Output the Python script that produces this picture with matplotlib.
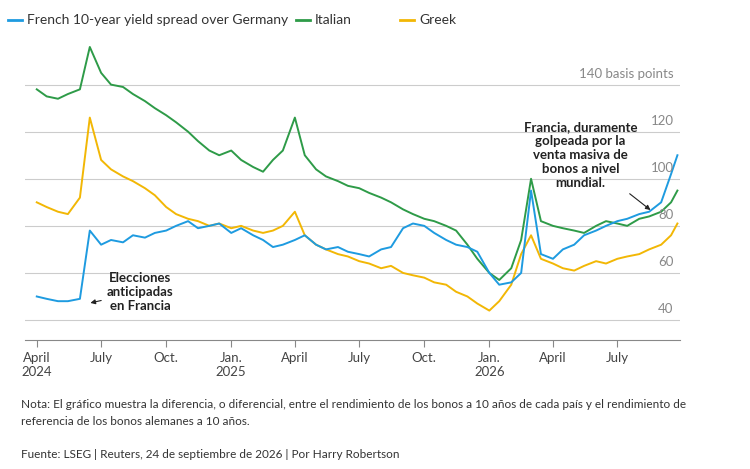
import matplotlib
matplotlib.use("Agg")
import matplotlib.pyplot as plt
import pandas as pd

plt.rcParams['font.family'] = ['Lato', 'DejaVu Sans']

dates = list(pd.date_range("2024-04-01", "2026-09-15", freq="SMS")) + [pd.Timestamp("2026-09-24")]
french = [50, 49, 48, 48, 49, 78, 72, 74, 73, 76, 75, 77, 78, 80, 82, 79, 80, 81, 77, 79,
          76, 74, 71, 72, 74, 76, 72, 70, 71, 69, 68, 67, 70, 71, 79, 81, 80, 77, 74, 72,
          71, 69, 60, 55, 56, 60, 95, 68, 66, 70, 72, 76, 78, 80, 82, 83, 85, 86, 90, 102, 110]
italian = [138, 135, 134, 136, 138, 156, 145, 140, 139, 136, 133, 130, 127, 124, 120, 116, 112, 110, 112, 108,
           105, 103, 108, 112, 126, 110, 104, 101, 99, 97, 96, 94, 92, 90, 87, 85, 83, 82, 80, 78,
           72, 66, 60, 57, 62, 74, 100, 82, 80, 79, 78, 77, 80, 82, 81, 80, 83, 84, 86, 90, 95]
greek = [90, 88, 86, 85, 92, 126, 108, 104, 101, 99, 96, 93, 88, 85, 83, 82, 80, 81, 79, 80,
         78, 77, 78, 80, 86, 76, 72, 70, 68, 67, 65, 64, 62, 63, 60, 59, 58, 56, 55, 52,
         50, 47, 44, 48, 55, 68, 76, 66, 64, 62, 61, 63, 65, 64, 66, 67, 68, 70, 72, 76, 81]

BLUE, GREEN, YELLOW = "#1E9BE0", "#2E9B48", "#F2B705"
W, H = 750, 469

fig = plt.figure(figsize=(7.5, 4.69), dpi=100)
ax = fig.add_axes([0.033, 0.275, 0.874, 0.66])
ax.plot(dates, italian, color=GREEN, lw=1.4)
ax.plot(dates, greek, color=YELLOW, lw=1.4)
ax.plot(dates, french, color=BLUE, lw=1.4)

ax.set_xlim(pd.Timestamp("2024-03-15"), pd.Timestamp("2026-09-28"))
ax.set_ylim(31.5, 163)
for v in [40, 60, 80, 100, 120, 140]:
    ax.axhline(v, color="#cccccc", lw=0.8, zorder=0)
    lab = "140 basis points" if v == 140 else str(v)
    ax.text(0.99, v + 2, lab, transform=ax.get_yaxis_transform(), ha="right", va="bottom",
            fontsize=9.5, color="#888888")
ax.set_yticks([])
for s in ["top", "right", "left"]:
    ax.spines[s].set_visible(False)
ax.spines["bottom"].set_color("#888888")
ticks = pd.date_range("2024-04-01", "2026-07-01", freq="QS")
ax.set_xticks(ticks)
labels = []
for t in ticks:
    m = {1: "Jan.", 4: "April", 7: "July", 10: "Oct."}[t.month]
    labels.append(f"{m}\n{t.year}" if (t.month == 1 or (t.month == 4 and t.year == 2024)) else m)
ax.set_xticklabels(labels, fontsize=9.5, color="#444444")
ax.tick_params(axis="x", length=5, color="#888888")

ax.annotate("Elecciones\nanticipadas\nen Francia", xy=(pd.Timestamp("2024-06-12"), 47),
            xytext=(pd.Timestamp("2024-08-25"), 52), ha="center", va="center",
            fontsize=9.5, fontweight="bold", color="#222222",
            arrowprops=dict(arrowstyle="-|>", color="#222222", lw=0.8, mutation_scale=7))
ax.annotate("Francia, duramente\ngolpeada por la\nventa masiva de\nbonos a nivel\nmundial.", xy=(pd.Timestamp("2026-08-20"), 86),
            xytext=(pd.Timestamp("2026-05-10"), 110), ha="center", va="center",
            fontsize=9.5, fontweight="bold", color="#222222",
            arrowprops=dict(arrowstyle="-|>", color="#222222", lw=0.8, mutation_scale=7))

# legend (pixel positions)
yl = 1 - 20 / H
items = [("French 10-year yield spread over Germany", BLUE, 8), ("Italian", GREEN, 296), ("Greek", YELLOW, 400)]
for txt, c, px in items:
    fig.add_artist(plt.Line2D([px / W, (px + 14) / W], [yl, yl], color=c, lw=2, transform=fig.transFigure))
    fig.text((px + 19) / W, yl, txt, fontsize=10, color="#333333", va="center")

fig.text(0.028, 0.09, "Nota: El gráfico muestra la diferencia, o diferencial, entre el rendimiento de los bonos a 10 años de cada país y el rendimiento de\nreferencia de los bonos alemanes a 10 años.",
         fontsize=8.5, color="#333333", va="bottom", linespacing=1.6)
fig.text(0.028, 0.02, "Fuente: LSEG | Reuters, 24 de septiembre de 2026 | Por Harry Robertson", fontsize=8.5, color="#333333", va="bottom")
fig.savefig("out.png", dpi=100)
